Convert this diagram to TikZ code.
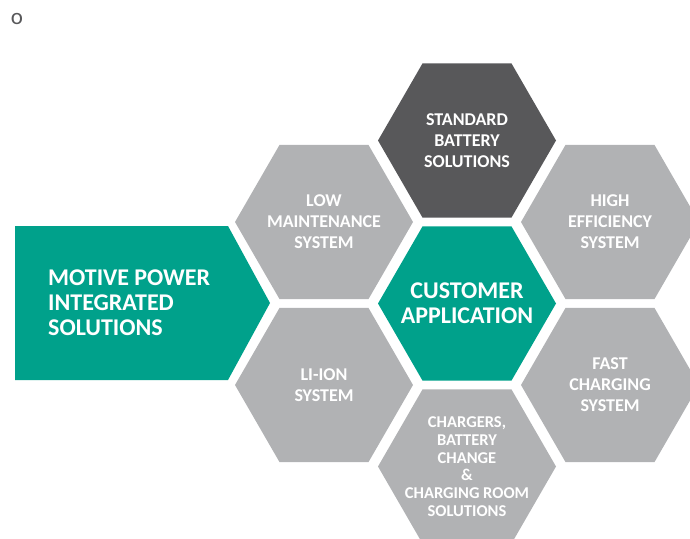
\documentclass[tikz,border=0pt]{standalone}
\usepackage{fontspec}
\setmainfont{Carlito}
\usetikzlibrary{shapes.geometric}

\definecolor{hexteal}{RGB}{0,161,139}
\definecolor{hexgrey}{RGB}{177,178,180}
\definecolor{hexdark}{RGB}{88,88,90}

\begin{document}
\begin{tikzpicture}[x=1pt,y=-1pt,
    hex/.style={regular polygon, regular polygon sides=6,
      minimum size=178pt, inner sep=0pt, outer sep=0pt},
    hextext/.style={text=white, align=center, inner sep=0pt,
      font=\bfseries\fontsize{18}{21}\selectfont}]
    \useasboundingbox (0,0) rectangle (690,538);
    \node[text=hexdark, inner sep=0pt, font=\fontsize{23}{23}\selectfont] (dot) at (17,19) {o};
    % honeycomb
    \node[hex, fill=hexdark] (std) at (467,140.5) {}; % Standard battery
    \node[hex, fill=hexgrey] (low) at (324,222) {}; % Low maintenance
    \node[hex, fill=hexgrey] (high) at (610,222) {}; % High efficiency
    \node[hex, fill=hexteal] (cust) at (467,303.5) {}; % Customer application
    \node[hex, fill=hexgrey] (liion) at (324,385) {}; % Li-ion
    \node[hex, fill=hexgrey] (fast) at (610,385) {}; % Fast charging
    \node[hex, fill=hexgrey] (chg) at (467,466.5) {}; % Chargers
    % motive power arrow
    \coordinate (P1) at (15,226);
    \coordinate (P2) at (228,226);
    \coordinate (P3) at (270,303);
    \coordinate (P4) at (228,380);
    \coordinate (P5) at (15,380);
    \fill[hexteal] (P1) -- (P2) -- (P3) -- (P4) -- (P5) -- cycle;
    % labels
    \node[hextext] (stdtext) at (std) {STANDARD\\BATTERY\\SOLUTIONS};
    \node[hextext] (lowtext) at (low) {LOW\\MAINTENANCE\\SYSTEM};
    \node[hextext] (hightext) at (high) {HIGH\\EFFICIENCY\\SYSTEM};
    \node[hextext, font=\bfseries\fontsize{24}{25}\selectfont] (custtext) at (cust) {CUSTOMER\\APPLICATION};
    \node[hextext] (liiontext) at (liion) {LI-ION\\SYSTEM};
    \node[hextext] (fasttext) at (fast) {FAST\\CHARGING\\SYSTEM};
    \node[hextext, font=\bfseries\fontsize{16.5}{17.7}\selectfont] (chgtext) at (chg) {CHARGERS,\\BATTERY\\CHANGE\\\&\\CHARGING ROOM\\SOLUTIONS};
    \node[hextext, align=left, anchor=west, font=\bfseries\fontsize{24}{25}\selectfont] (motive) at (48,303) {MOTIVE POWER\\INTEGRATED\\SOLUTIONS};
\end{tikzpicture}
\end{document}
